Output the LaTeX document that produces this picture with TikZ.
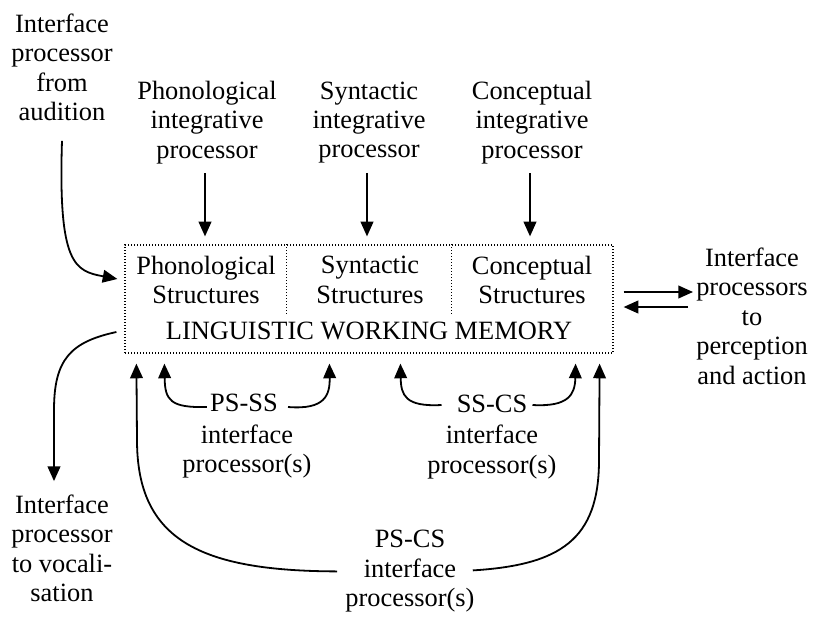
\documentclass[tikz,border=0pt]{standalone}
\usepackage{fontspec}
\setmainfont{Liberation Serif}
\usetikzlibrary{arrows.meta,calc}
\newcommand\dfs{\fontsize{19.8pt}{22.1pt}\selectfont}
\begin{document}
\begin{tikzpicture}[x=0.75pt,y=-0.75pt,
  tx/.style={align=center,inner sep=0pt,font=\dfs},
  arr/.style={line width=1.35pt,-{Triangle[length=11pt,width=9.5pt]}},
  dotln/.style={line width=0.9pt,dash pattern=on 0.75pt off 1.5pt},
]
\useasboundingbox (0,0) rectangle (816,617);
% top labels
\node[tx] (aud) at (62,67.5) {Interface\\processor\\from\\audition};
\node[tx] (phi) at (207,122.6) {Phonological\\integrative\\processor};
\node[tx] (syi) at (369,122.6) {Syntactic\\integrative\\processor};
\node[tx] (coi) at (532,122.6) {Conceptual\\integrative\\processor};
% working memory box
\node[dotln,draw,minimum width=366pt,minimum height=81pt,inner sep=0pt] (lwm) at (369,299) {};
\draw[dotln] ($(lwm.north west)+(162,0)$) -- ++(0,72);
\draw[dotln] ($(lwm.north west)+(327,0)$) -- ++(0,72);
\node[tx] (phs) at (206,280) {Phonological\\Structures};
\node[tx] (sys) at (370,280) {Syntactic\\Structures};
\node[tx] (cos) at (532,280) {Conceptual\\Structures};
\node[tx] (lwmt) at (369,331) {LINGUISTIC WORKING MEMORY};
% side labels
\node[tx] (perc) at (752,316) {Interface\\processors\\to\\perception\\and action};
\node[tx] (voc) at (62,548.5) {Interface\\processor\\to vocali-\\sation};
% interface processors
\node[tx] (psss) at (244,403) {PS-SS};
\node[tx] (psssb) at (247,451.4) {interface\\processor(s)};
\node[tx] (sscs) at (492,404) {SS-CS};
\node[tx] (sscsb) at (492,452) {interface\\processor(s)};
\node[tx] (pscs) at (410,571.4) {PS-CS\\interface\\processor(s)};
% integrative arrows
\draw[arr,shorten <=6.75pt,shorten >=6pt] ([xshift=-1.5pt]phi.south) -- ([xshift=-1.5pt]phi.south |- lwm.north);
\draw[arr,shorten <=6.75pt,shorten >=6pt] ([xshift=-1.5pt]syi.south) -- ([xshift=-1.5pt]syi.south |- lwm.north);
\draw[arr,shorten <=6.75pt,shorten >=6pt] ([xshift=-1.5pt]coi.south) -- ([xshift=-1.5pt]coi.south |- lwm.north);
% audition and vocalisation
\draw[arr] ($(aud.south)+(0,19.5)$) .. controls (58,265) and (75,271) .. ($(lwm.west)+(-7,-20)$);
\draw[arr] ($(lwm.west)+(-8,33)$) .. controls (70,342) and (54,360) .. (54,410) -- ($(voc.north)+(-8,-13.5)$);
% perception and action
\coordinate (r1) at ($(lwm.east)+(10,-7)$);
\coordinate (r2) at ($(lwm.east)+(10,8)$);
\draw[arr,shorten >=2.25pt] (r1) -- (r1 -| perc.west);
\draw[arr,shorten <=6pt] (r2 -| perc.west) -- (r2);
% PS-SS
\draw[arr] ($(psss.west)+(-3,4)$) .. controls (170,408) and (165,400) .. ($(lwm.south west)+(40,10)$);
\draw[arr] ($(psss.east)+(10,4)$) .. controls (325,410) and (330,395) .. ($(lwm.south west)+(205,10)$);
% SS-CS
\draw[arr] ($(sscs.west)+(-15,1)$) .. controls (405,407) and (401,395) .. ($(lwm.south west)+(276,10)$);
\draw[arr] ($(sscs.east)+(5,1)$) .. controls (568,407) and (575,395) .. ($(lwm.south east)+(-38,10)$);
% PS-CS
\draw[arr] ($(pscs.west)+(-8,0)$) .. controls (200,571) and (137,540) .. (137,440) -- ($(lwm.south west)+(12,10)$);
\draw[arr] ($(pscs.east)+(-2,-1)$) .. controls (560,565) and (599,540) .. (599,460) -- ($(lwm.south east)+(-14,10)$);
\end{tikzpicture}
\end{document}
